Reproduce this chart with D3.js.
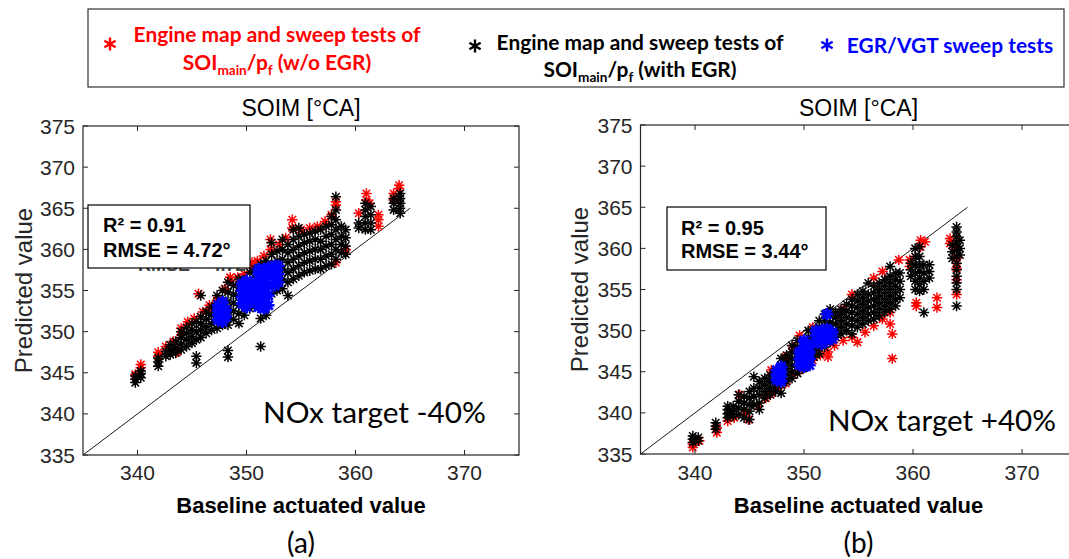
<!DOCTYPE html>
<html>
<head>
<meta charset="utf-8">
<script src="https://cdn.jsdelivr.net/npm/d3@7"></script>
<style>
body { margin: 0; background: #fff; }
</style>
</head>
<body>
<div id="main"></div>
<script>
var xTicks = [340, 350, 360, 370];
var yTicks = [335, 340, 345, 350, 355, 360, 365, 370, 375];
var axisDomain = [335, 375];
var refLine = [335, 365];

// points grouped per baseline value: [baseline, [predicted, ...]]
var aRed = [
    [339.8, [344.8]], [340.3, [345.6, 346.0]], [341.9, [347.0, 347.5]],
    [342.6, [348.2]], [343.3, [348.8]], [343.6, [347.5]], [344.0, [349.6, 350.4]],
    [344.6, [350.8, 351.2]], [345.2, [351.6]], [345.6, [354.6]], [346.0, [352.4]],
    [346.6, [352.8, 353.2]], [347.3, [353.8]], [348.0, [355.2]], [348.5, [356.2, 356.6]],
    [349.2, [356.6]], [349.8, [357.0]], [350.5, [357.8, 358.4]], [351.0, [358.6]],
    [351.6, [359.2]], [352.2, [360.0, 361.2]], [353.0, [360.6]], [353.6, [361.4]],
    [354.2, [362.6, 363.6]], [355.0, [362.4]], [355.8, [362.6]], [356.5, [362.8]],
    [357.2, [363.4]], [357.8, [364.2]], [358.2, [358.4, 365.4, 365.8]],
    [359.1, [360.0]], [360.3, [364.4]], [361.0, [366.0, 366.8]], [361.3, [365.6]],
    [362.1, [362.8, 363.6, 364.2]], [363.5, [366.0, 366.8]], [364.0, [367.4, 367.8]]
];
var aBlack = [
    [339.8, [343.8, 344.2, 344.6]], [340.3, [344.4, 344.9, 345.2]],
    [341.9, [345.8, 346.3, 346.8]], [342.6, [347.0, 347.6]],
    [343.0, [347.2, 347.8, 348.4]], [343.5, [347.4, 348.0, 348.8]],
    [344.0, [347.8, 348.5, 349.3, 350.0]], [344.5, [348.2, 349.0, 349.8, 350.5]],
    [345.0, [348.6, 349.4, 350.2, 351.0]], [345.4, [346.2, 347.0, 349.0, 350.0, 351.2]],
    [345.8, [349.3, 350.2, 351.0, 351.8, 354.4]], [346.3, [349.8, 350.6, 351.5, 352.4]],
    [346.8, [350.2, 351.0, 352.0, 353.0]], [347.3, [350.4, 351.4, 352.4, 353.4, 354.4]],
    [347.8, [350.8, 351.8, 352.8, 353.8, 355.0]],
    [348.3, [346.9, 347.7, 350.8, 351.6, 352.6, 353.6, 354.8, 356.0]],
    [348.8, [351.5, 352.5, 353.5, 354.5, 355.6]],
    [349.3, [351.0, 352.2, 353.2, 354.4, 355.4, 356.4]],
    [349.8, [352.0, 353.2, 354.2, 355.2, 356.2]],
    [350.3, [352.8, 353.8, 355.0, 356.0, 357.2]],
    [350.8, [353.2, 354.4, 355.6, 356.6, 357.6]],
    [351.3, [348.2, 351.6, 353.6, 354.8, 356.0, 357.2, 358.2]],
    [351.8, [352.0, 354.0, 355.2, 356.4, 357.6, 358.6]],
    [352.3, [354.6, 355.8, 357.0, 358.2, 359.4, 360.8]],
    [352.8, [355.0, 356.2, 357.4, 358.6, 359.8]],
    [353.3, [355.2, 356.4, 357.6, 358.8, 360.0, 361.2]],
    [353.8, [354.4, 356.0, 357.2, 358.4, 359.6, 360.6]],
    [354.3, [356.4, 357.6, 358.8, 360.0, 361.2, 362.4]],
    [354.8, [356.8, 358.0, 359.2, 360.4, 361.6, 362.6]],
    [355.3, [357.2, 358.4, 359.6, 360.8, 361.8]],
    [355.8, [357.4, 358.6, 359.8, 361.0, 362.0]],
    [356.3, [357.6, 358.8, 360.0, 361.2, 362.2]],
    [356.8, [357.6, 358.8, 360.0, 361.0, 362.4]],
    [357.3, [358.0, 359.2, 360.4, 361.6, 362.8]],
    [357.8, [358.2, 359.4, 360.6, 361.8, 363.0, 364.0]],
    [358.2, [358.8, 360.0, 361.2, 362.4, 363.6, 364.8, 366.4]],
    [358.7, [359.6, 360.6, 361.6, 362.8]],
    [359.1, [359.4, 360.4, 361.4, 362.4]],
    [360.3, [362.6, 363.2]], [360.9, [362.4, 363.2, 364.0, 364.8, 365.6]],
    [361.4, [362.4, 363.2, 364.2, 365.2]],
    [363.5, [364.8, 365.6, 366.2]], [364.1, [364.4, 365.0, 365.6, 366.2, 366.8]]
];
var aBlue = [
    [347.4, [351.4, 352.0, 352.6, 353.2]], [347.8, [351.2, 351.8, 352.4, 353.0, 353.6]],
    [348.1, [351.8, 352.6]], [349.6, [353.4, 354.2, 355.0, 355.8]],
    [350.0, [353.0, 353.8, 354.6, 355.4, 356.2]], [350.4, [353.6, 354.4, 355.2, 356.0]],
    [351.1, [353.0, 353.8, 354.6, 355.4, 356.2, 357.0, 357.6]],
    [351.6, [352.8, 353.6, 354.4, 355.2, 356.0, 356.8, 357.6]],
    [352.0, [353.2, 354.4, 355.6, 356.8, 357.8]],
    [352.6, [355.6, 356.4, 357.2, 358.0]], [352.9, [356.0, 357.0, 358.0]]
];

var bRed = [
    [339.8, [335.8, 336.2]], [340.4, [336.6]], [342.0, [337.6, 338.2]],
    [343.0, [339.0]], [343.6, [339.4]], [344.1, [342.2]], [344.7, [340.0]],
    [344.9, [339.2]], [345.8, [340.8]], [346.5, [341.8]], [347.0, [342.4, 345.2]],
    [347.6, [343.0]], [348.3, [343.6, 346.8]], [349.0, [344.6, 348.0]],
    [349.6, [345.2, 349.4]], [350.2, [345.8]], [350.8, [346.4, 350.4]],
    [351.5, [347.0]], [352.2, [346.8, 347.4]], [352.8, [348.2]],
    [353.6, [348.8, 352.6]], [354.4, [349.2, 354.4]], [354.9, [348.6]],
    [355.6, [349.8]], [356.4, [350.6, 356.4]], [357.2, [351.4, 357.2]],
    [357.9, [350.8, 352.2]], [358.1, [349.6, 346.6]], [358.7, [358.6]],
    [359.7, [357.8, 358.6]], [360.3, [353.0, 353.4]], [360.7, [360.2, 361.0]],
    [361.1, [360.8]], [362.2, [352.8, 354.0]], [363.4, [360.6, 361.2]],
    [364.0, [354.4, 356.2, 357.6, 358.8, 360.0]]
];
var bBlack = [
    [339.8, [336.4, 336.8, 337.2]], [340.3, [336.6, 337.0]],
    [341.9, [338.0, 338.4, 338.8]], [343.0, [339.4, 339.9, 340.4, 340.8]],
    [343.5, [339.6, 340.2, 340.8]], [344.0, [339.8, 340.6, 341.4, 342.2]],
    [344.5, [339.4, 340.4, 341.2, 342.0]], [345.0, [339.2, 340.2, 341.0, 341.8, 342.6]],
    [345.4, [341.0, 342.0, 343.0, 344.4]], [345.9, [340.4, 341.2, 342.2, 343.0, 343.8]],
    [346.4, [341.8, 342.6, 343.4, 344.2]], [346.9, [342.2, 343.0, 343.8, 344.6]],
    [347.4, [342.6, 343.4, 344.2, 345.0]],
    [347.9, [342.4, 343.4, 344.2, 345.0, 345.8, 346.6]],
    [348.4, [343.8, 344.6, 345.4, 346.2, 347.0]],
    [348.9, [344.2, 345.0, 345.8, 346.6, 347.4, 348.2]],
    [349.4, [344.8, 345.6, 346.4, 347.2, 348.0, 348.8]],
    [349.9, [345.4, 346.2, 347.0, 347.8, 348.6]],
    [350.4, [346.0, 346.8, 347.6, 348.4, 349.2, 350.0]],
    [350.9, [346.8, 347.6, 348.4, 349.2, 350.0]],
    [351.4, [347.2, 348.0, 348.8, 349.6, 350.4, 351.2]],
    [351.9, [348.0, 348.8, 349.6, 350.4, 351.2, 352.0]],
    [352.4, [348.6, 349.4, 350.2, 351.0, 351.8, 352.6]],
    [352.9, [349.2, 350.0, 350.8, 351.6, 352.2]],
    [353.4, [349.6, 350.4, 351.2, 352.0, 352.6]],
    [353.9, [350.0, 350.8, 351.6, 352.4, 353.2]],
    [354.4, [349.6, 350.6, 351.4, 352.2, 353.0, 353.8]],
    [354.9, [350.4, 351.2, 352.0, 352.8, 353.6, 354.4]],
    [355.4, [350.8, 351.6, 352.4, 353.2, 354.0, 354.8]],
    [355.9, [351.2, 352.0, 352.8, 353.6, 354.4, 355.8]],
    [356.4, [351.4, 352.2, 353.0, 353.8, 354.6, 355.4]],
    [356.9, [351.8, 352.6, 353.4, 354.2, 355.0, 355.8]],
    [357.4, [352.2, 353.0, 353.8, 354.6, 355.4, 356.2]],
    [357.9, [352.6, 353.4, 354.2, 355.0, 355.8, 356.6, 357.8]],
    [358.4, [353.0, 353.8, 354.6, 355.4, 356.2, 357.0]],
    [358.8, [354.0, 355.0, 356.0, 357.0]], [359.8, [356.6, 357.4, 358.2]],
    [360.2, [355.0, 356.0, 357.0, 358.0, 359.0, 360.0]],
    [360.6, [354.8, 355.6, 356.4, 357.2, 358.0, 359.0, 360.2]],
    [361.0, [352.2, 355.0, 356.0, 357.0, 358.0]], [361.5, [356.4, 357.2, 358.0]],
    [363.6, [358.8, 359.6, 360.4]],
    [364.0, [353.0, 355.0, 355.8, 356.6, 357.4, 358.2, 359.0, 359.8, 360.6, 361.4, 362.0, 362.6]],
    [364.3, [359.2, 360.0, 361.0]]
];
var bBlue = [
    [347.5, [344.0, 344.6, 345.2]], [347.9, [343.8, 344.4, 345.0, 345.6]],
    [349.6, [345.8, 346.6, 347.4]], [350.0, [345.6, 346.4, 347.2, 348.0, 348.8]],
    [350.5, [345.8, 346.6, 347.4, 348.2]], [351.1, [348.6, 349.4, 350.0]],
    [351.6, [348.4, 349.2, 350.0]], [352.1, [348.8, 349.6, 350.2, 352.0]],
    [352.6, [349.0, 349.8]]
];

var r2Values = ["0.91", "0.95"];
var rmseValues = ["4.72°", "3.44°"];
var noxLabels = ["NOx target -40%", "NOx target +40%"];
var panelLabels = ["(a)", "(b)"];

var colors = { red: "#ff0000", black: "#000000", blue: "#0000ff" };
var tickColor = "#262626";

var svg = d3.select("#main").append("svg").attr("width", 1069).attr("height", 559);

function flatten(groups) {
    var out = [];
    groups.forEach(function (g) {
        g[1].forEach(function (y) { out.push([g[0], y]); });
    });
    return out;
}

function starPath(r) {
    var d = r * 0.72;
    return "M" + -r + ",0H" + r + "M0," + -r + "V" + r +
        "M" + -d + "," + -d + "L" + d + "," + d +
        "M" + -d + "," + d + "L" + d + "," + -d;
}

function starPath6(r) {
    var c = r * Math.cos(Math.PI / 6), s = r * 0.5;
    return "M0," + -r + "V" + r +
        "M" + -c + "," + -s + "L" + c + "," + s +
        "M" + -c + "," + s + "L" + c + "," + -s;
}

function fitWidth(sel, w) {
    var cur = sel.node().getComputedTextLength();
    var fs = parseFloat(sel.attr("font-size"));
    sel.attr("font-size", (fs * w / cur).toFixed(2));
}

var panels = [
    { left: 83, right: 519, top: 126, bottom: 455, ylabX: 24, red: aRed, black: aBlack, blue: aBlue,
      box: [88, 205, 250, 268], boxText: [103, 231.7, 256.7], nox: [263, 423, 223], ghost: true },
    { left: 640.5, right: 1076.5, top: 125, bottom: 454, ylabX: 580, red: bRed, black: bBlack, blue: bBlue,
      box: [667, 207, 826, 270], boxText: [681, 234.5, 258], nox: [828, 431, 228], ghost: false }
];

var markerStyle = {
    red: { r: 5.2, w: 1.5 },
    black: { r: 5.2, w: 1.5 },
    blue: { r: 6.2, w: 2.8 }
};

panels.forEach(function (p, i) {
    var g = svg.append("g");
    var x = d3.scaleLinear().domain(axisDomain).range([p.left, p.right]);
    var y = d3.scaleLinear().domain(axisDomain).range([p.bottom, p.top]);

    // reference line y = x
    g.append("line")
        .attr("x1", x(refLine[0])).attr("y1", y(refLine[0]))
        .attr("x2", x(refLine[1])).attr("y2", y(refLine[1]))
        .attr("stroke", "#000").attr("stroke-width", 0.9);

    [["red", p.red], ["black", p.black], ["blue", p.blue]].forEach(function (s) {
        var st = markerStyle[s[0]];
        g.append("g").selectAll("path")
            .data(flatten(s[1]))
            .enter()
            .append("path")
            .attr("d", starPath(st.r))
            .attr("transform", function (d) { return "translate(" + x(d[0]) + "," + y(d[1]) + ")"; })
            .attr("fill", "none")
            .attr("stroke", colors[s[0]])
            .attr("stroke-width", st.w);
    });

    // axes, MATLAB style: box with inward ticks
    var tl = 5;
    var ax = g.append("g").attr("font-family", "'Liberation Sans', Arial, sans-serif").attr("fill", tickColor);
    ax.append("rect")
        .attr("x", p.left).attr("y", p.top)
        .attr("width", p.right - p.left).attr("height", p.bottom - p.top)
        .attr("fill", "none").attr("stroke", tickColor).attr("stroke-width", 1.2);
    xTicks.forEach(function (t) {
        ax.append("line").attr("x1", x(t)).attr("x2", x(t)).attr("y1", p.bottom).attr("y2", p.bottom - tl)
            .attr("stroke", tickColor);
        ax.append("line").attr("x1", x(t)).attr("x2", x(t)).attr("y1", p.top).attr("y2", p.top + tl)
            .attr("stroke", tickColor);
        ax.append("text").attr("x", x(t)).attr("y", 480).attr("text-anchor", "middle")
            .attr("font-size", 21).text(t);
    });
    yTicks.forEach(function (t) {
        ax.append("line").attr("x1", p.left).attr("x2", p.left + tl).attr("y1", y(t)).attr("y2", y(t))
            .attr("stroke", tickColor);
        ax.append("line").attr("x1", p.right).attr("x2", p.right - tl).attr("y1", y(t)).attr("y2", y(t))
            .attr("stroke", tickColor);
        ax.append("text").attr("x", p.left - 8).attr("y", y(t)).attr("dy", "0.36em")
            .attr("text-anchor", "end").attr("font-size", 21).text(t);
    });

    var cx = (p.left + p.right) / 2;
    ax.append("text").attr("x", cx).attr("y", 116).attr("text-anchor", "middle")
        .attr("font-size", 23).attr("fill", "#000").text("SOIM [°CA]");
    ax.append("text").attr("x", cx).attr("y", 513).attr("text-anchor", "middle")
        .attr("font-size", 22).attr("font-weight", "bold").attr("fill", "#000").text("Baseline actuated value");
    ax.append("text")
        .attr("transform", "translate(" + (p.ylabX + 8) + "," + ((p.top + p.bottom) / 2) + ") rotate(-90)")
        .attr("text-anchor", "middle").attr("font-size", 24).attr("fill", tickColor).text("Predicted value");

    // stats box (panel a shows a leftover label partly hidden under it)
    if (p.ghost) {
        ax.append("text").attr("x", 138).attr("y", 271).attr("font-size", 18).attr("font-weight", "bold")
            .attr("fill", "#444").text("RMSE = " + rmseValues[i].replace("°", ""));
    }
    ax.append("rect")
        .attr("x", p.box[0]).attr("y", p.box[1])
        .attr("width", p.box[2] - p.box[0]).attr("height", p.box[3] - p.box[1])
        .attr("fill", "#fff").attr("stroke", "#000").attr("stroke-width", 1.2);
    ax.append("text").attr("x", p.boxText[0]).attr("y", p.boxText[1])
        .attr("font-size", 20).attr("font-weight", "bold").attr("fill", "#000")
        .text("R² = " + r2Values[i]);
    ax.append("text").attr("x", p.boxText[0]).attr("y", p.boxText[2])
        .attr("font-size", 20).attr("font-weight", "bold").attr("fill", "#000")
        .text("RMSE = " + rmseValues[i]);

    var nox = svg.append("text").attr("x", p.nox[0]).attr("y", p.nox[1])
        .attr("font-family", "Lato, 'Open Sans', sans-serif").attr("font-size", 30)
        .attr("fill", "#000").text(noxLabels[i]);
    fitWidth(nox, p.nox[2]);

    svg.append("text").attr("x", cx).attr("y", 553).attr("text-anchor", "middle")
        .attr("font-family", "Lato, 'Open Sans', sans-serif").attr("font-size", 28)
        .attr("fill", "#000").text(panelLabels[i]);
});

// legend
var leg = svg.append("g").attr("font-family", "Lato, 'Open Sans', sans-serif").attr("font-weight", "bold");
leg.append("rect").attr("x", 88).attr("y", 9).attr("width", 976).attr("height", 78)
    .attr("fill", "none").attr("stroke", "#333").attr("stroke-width", 1.2);

var legendItems = [
    { color: colors.red, star: [110, 44], cx: 277, lines: [42, 70], sub: "(w/o EGR)" },
    { color: colors.black, star: [475, 46], cx: 640, lines: [50, 77], sub: "(with EGR)" },
    { color: colors.blue, star: [827, 45], cx: 950, lines: [53], sub: null }
];

var legFs = 20;
legendItems.forEach(function (it, k) {
    leg.append("path").attr("d", starPath6(6.5))
        .attr("transform", "translate(" + it.star[0] + "," + it.star[1] + ")")
        .attr("stroke", it.color).attr("stroke-width", 2.4).attr("fill", "none");
    if (it.sub) {
        var t1 = leg.append("text").attr("x", it.cx).attr("y", it.lines[0]).attr("text-anchor", "middle")
            .attr("font-size", legFs).attr("fill", it.color).text("Engine map and sweep tests of");
        if (k === 0) {
            fitWidth(t1, 287);
            legFs = parseFloat(t1.attr("font-size"));
        } else {
            t1.attr("font-size", legFs);
        }
        var t2 = leg.append("text").attr("x", it.cx).attr("y", it.lines[1]).attr("text-anchor", "middle")
            .attr("font-size", legFs).attr("fill", it.color);
        t2.append("tspan").text("SOI");
        t2.append("tspan").attr("font-size", legFs * 0.65).attr("dy", 5).text("main");
        t2.append("tspan").attr("dy", -5).text("/p");
        t2.append("tspan").attr("font-size", legFs * 0.65).attr("dy", 5).text("f");
        t2.append("tspan").attr("dy", -5).text(" " + it.sub);
    } else {
        leg.append("text").attr("x", it.cx).attr("y", it.lines[0]).attr("text-anchor", "middle")
            .attr("font-size", legFs).attr("fill", it.color).text("EGR/VGT sweep tests");
    }
});
</script>
</body>
</html>
